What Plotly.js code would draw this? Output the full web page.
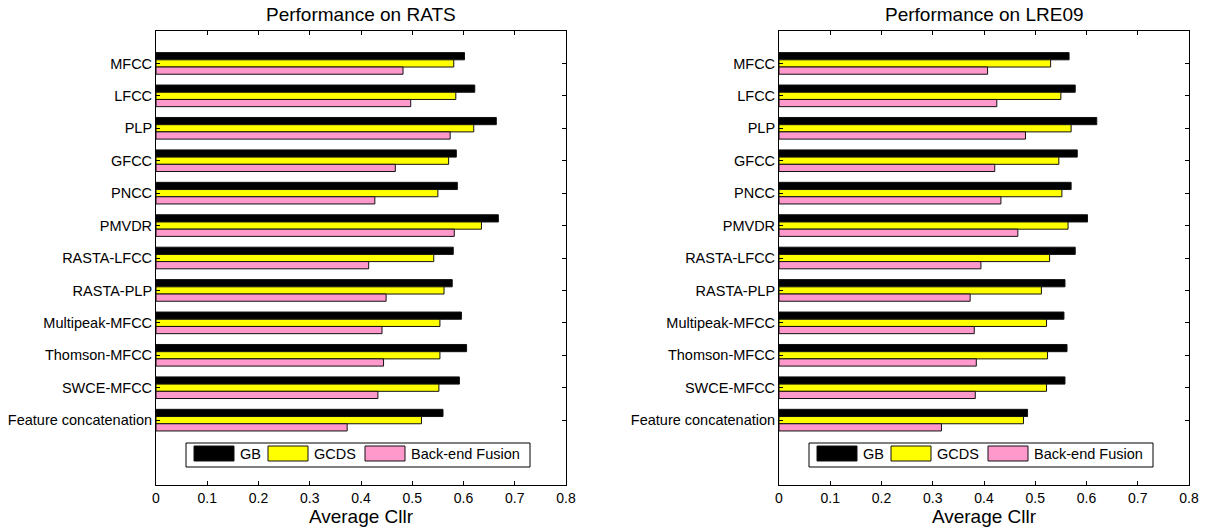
<!DOCTYPE html>
<html>
<head>
<meta charset="utf-8">
<script src="https://cdn.plot.ly/plotly-3.0.1.min.js"></script>
<style>
html,body{margin:0;padding:0;background:#fff;}
#chart{width:1205px;height:531px;}
</style>
</head>
<body>
<div id="chart"></div>
<script>
// ---- data ----
const categories = ['MFCC','LFCC','PLP','GFCC','PNCC','PMVDR','RASTA-LFCC','RASTA-PLP','Multipeak-MFCC','Thomson-MFCC','SWCE-MFCC','Feature concatenation'];
const seriesNames = ['GB','GCDS','Back-end Fusion'];
const panelTitles = ['Performance on RATS','Performance on LRE09'];
const xTitle = 'Average Cllr';
const ratsGB     = [0.602,0.622,0.664,0.586,0.588,0.668,0.580,0.578,0.596,0.606,0.592,0.560];
const ratsGCDS   = [0.581,0.585,0.620,0.571,0.550,0.635,0.542,0.562,0.554,0.554,0.552,0.518];
const ratsFusion = [0.482,0.497,0.574,0.467,0.427,0.582,0.415,0.449,0.441,0.444,0.433,0.373];
const lreGB      = [0.566,0.578,0.620,0.582,0.570,0.602,0.578,0.558,0.556,0.562,0.558,0.485];
const lreGCDS    = [0.530,0.550,0.570,0.546,0.552,0.564,0.528,0.512,0.522,0.524,0.522,0.477];
const lreFusion  = [0.407,0.425,0.481,0.421,0.433,0.466,0.394,0.373,0.381,0.385,0.383,0.317];
const xTickVals  = [0,0.1,0.2,0.3,0.4,0.5,0.6,0.7,0.8];

// ---- styling ----
const colors = ['#000000','#ffff00','#ff99cc'];
const W = 1205, H = 531;
const FONT = 'Liberation Sans, Arial, sans-serif';
// plot area pixel boxes
const boxes = [{l:156, r:566}, {l:779, r:1189}];
const plotTop = 31, plotBottom = 485;

const panels = [
  [ratsGB, ratsGCDS, ratsFusion],
  [lreGB, lreGCDS, lreFusion]
];

const traces = [];
panels.forEach((vals, p) => {
  const sfx = p === 0 ? '' : '2';
  vals.forEach((v, i) => {
    traces.push({
      type: 'bar', orientation: 'h',
      x: v, y: categories, name: seriesNames[i],
      xaxis: 'x' + sfx, yaxis: 'y' + sfx,
      marker: {color: colors[i], line: {color: '#111', width: 1}},
      showlegend: false, hoverinfo: 'x+y+name'
    });
  });
});

function xAxis(p) {
  const b = boxes[p];
  return {
    domain: [b.l / W, b.r / W],
    anchor: p === 0 ? 'y' : 'y2',
    range: [0, 0.8], tickvals: xTickVals, ticktext: xTickVals.map(String),
    ticks: 'inside', ticklen: 4, tickcolor: '#000', tickwidth: 1,
    showline: true, linecolor: '#000', linewidth: 1, mirror: 'ticks',
    showgrid: false, zeroline: false,
    tickfont: {family: FONT, size: 14, color: '#000'},
    title: {text: xTitle, font: {family: FONT, size: 19, color: '#000'}, standoff: 4},
    automargin: false, fixedrange: true
  };
}
function yAxis(p) {
  return {
    domain: [(H - plotBottom) / H, (H - plotTop) / H],
    anchor: p === 0 ? 'x' : 'x2',
    type: 'category', categoryorder: 'array', categoryarray: categories,
    range: [13, -1],
    ticks: 'inside', ticklen: 4, tickcolor: '#000', tickwidth: 1,
    showline: true, linecolor: '#000', linewidth: 1, mirror: 'ticks',
    showgrid: false, zeroline: false,
    tickfont: {family: FONT, size: 14.5, color: '#000'},
    automargin: false, fixedrange: true
  };
}

// custom legend (MATLAB-style wide swatches), positioned in axis-domain units
const shapes = [], annotations = [];
const plotW = 410, plotH = plotBottom - plotTop;
const legBox = {l: 30, r: 374, t: 412, b: 436};
const swatchL = [38, 112, 209], swatchW = 40, swT = 415, swB = 430;
panels.forEach((vals, p) => {
  const sfx = p === 0 ? '' : '2';
  const xr = 'x' + sfx + ' domain', yr = 'y' + sfx + ' domain';
  const fx = v => v / plotW, fy = v => 1 - v / plotH;
  shapes.push({type: 'rect', xref: xr, yref: yr,
    x0: fx(legBox.l), x1: fx(legBox.r), y0: fy(legBox.b), y1: fy(legBox.t),
    line: {color: '#000', width: 1}, fillcolor: '#fff', layer: 'above'});
  seriesNames.forEach((nm, i) => {
    shapes.push({type: 'rect', xref: xr, yref: yr,
      x0: fx(swatchL[i]), x1: fx(swatchL[i] + swatchW), y0: fy(swB), y1: fy(swT),
      line: {color: '#111', width: 1}, fillcolor: colors[i], layer: 'above'});
    annotations.push({xref: xr, yref: yr, x: fx(swatchL[i] + swatchW + 4), y: fy((swT + swB) / 2),
      xanchor: 'left', yanchor: 'middle', showarrow: false, text: nm,
      font: {family: FONT, size: 14.5, color: '#000'}});
  });
  annotations.push({xref: 'paper', yref: 'paper',
    x: (boxes[p].l + boxes[p].r) / 2 / W, y: 1 - 14 / H,
    xanchor: 'center', yanchor: 'middle', showarrow: false, text: panelTitles[p],
    font: {family: FONT, size: 19, color: '#000'}});
});

const layout = {
  width: W, height: H,
  margin: {l: 0, r: 0, t: 0, b: 0},
  paper_bgcolor: '#fff', plot_bgcolor: '#fff',
  barmode: 'group', bargap: 0.333, bargroupgap: 0,
  showlegend: false,
  font: {family: FONT, color: '#000'},
  xaxis: xAxis(0), yaxis: yAxis(0),
  xaxis2: xAxis(1), yaxis2: yAxis(1),
  shapes: shapes, annotations: annotations
};

Plotly.newPlot('chart', traces, layout, {displayModeBar: false, staticPlot: true});
</script>
</body>
</html>
